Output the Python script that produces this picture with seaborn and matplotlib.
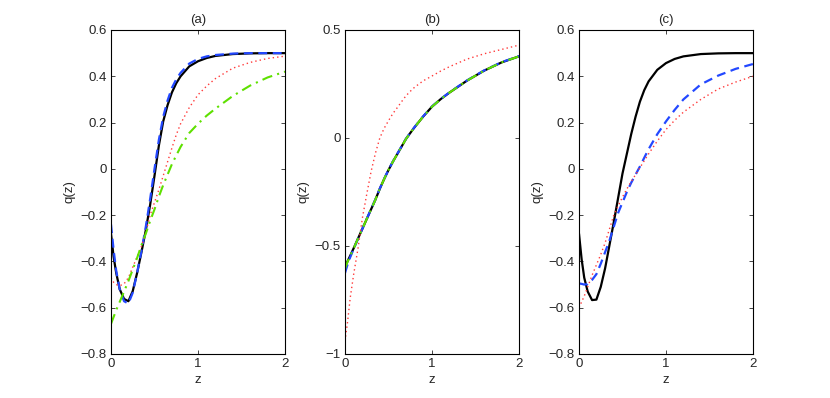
import numpy as np
import pandas as pd
import matplotlib
matplotlib.use("Agg")
import matplotlib.pyplot as plt
import seaborn as sns

# ---------------- data ----------------
z = [0, 0.03, 0.06, 0.1, 0.15, 0.2, 0.25, 0.3, 0.35, 0.4, 0.45, 0.5, 0.55,
     0.6, 0.65, 0.7, 0.75, 0.8, 0.9, 1.0, 1.1, 1.2, 1.4, 1.6, 1.8, 2.0]

# panel (a)
a_black = [-0.28, -0.38, -0.45, -0.52, -0.562, -0.572, -0.528, -0.45, -0.36, -0.265,
           -0.155, -0.03, 0.10, 0.205, 0.275, 0.33, 0.37, 0.40, 0.443, 0.465, 0.479,
           0.488, 0.496, 0.499, 0.5, 0.5]
a_blue = [-0.24, -0.35, -0.44, -0.52, -0.572, -0.582, -0.535, -0.45, -0.355, -0.25,
          -0.13, 0.0, 0.125, 0.225, 0.295, 0.35, 0.387, 0.415, 0.455, 0.475, 0.486,
          0.492, 0.498, 0.5, 0.5, 0.5]
a_red = [-0.47, -0.49, -0.50, -0.505, -0.497, -0.47, -0.425, -0.38, -0.335, -0.275,
         -0.2, -0.145, -0.09, -0.03, 0.03, 0.09, 0.147, 0.195, 0.265, 0.32, 0.358,
         0.39, 0.435, 0.46, 0.477, 0.487]
a_green = [-0.67, -0.64, -0.61, -0.575, -0.53, -0.485, -0.435, -0.385, -0.33, -0.28,
           -0.225, -0.175, -0.12, -0.07, -0.025, 0.02, 0.058, 0.095, 0.155, 0.195, 0.23,
           0.26, 0.315, 0.36, 0.395, 0.42]

# panel (b)
b_black = [-0.60, -0.57, -0.545, -0.51, -0.465, -0.42, -0.375, -0.33, -0.285, -0.235,
           -0.19, -0.148, -0.11, -0.075, -0.04, -0.005, 0.023, 0.05, 0.10, 0.145, 0.18,
           0.21, 0.265, 0.312, 0.35, 0.378]
b_blue = [-0.625, -0.585, -0.552, -0.513, -0.466, -0.42, -0.374, -0.329, -0.284, -0.234,
          -0.189, -0.147, -0.109, -0.074, -0.039, -0.004, 0.024, 0.051, 0.101, 0.146, 0.181,
          0.211, 0.266, 0.313, 0.351, 0.379]
b_red = [-0.94, -0.85, -0.74, -0.63, -0.51, -0.37, -0.26, -0.155, -0.07, 0.0,
         0.045, 0.08, 0.113, 0.14, 0.168, 0.195, 0.216, 0.235, 0.265, 0.287, 0.31,
         0.33, 0.365, 0.39, 0.41, 0.43]
b_green = [-0.605, -0.572, -0.546, -0.511, -0.465, -0.42, -0.375, -0.33, -0.285, -0.235,
           -0.19, -0.148, -0.11, -0.075, -0.04, -0.005, 0.023, 0.05, 0.10, 0.145, 0.18,
           0.21, 0.265, 0.312, 0.35, 0.378]

# panel (c)
c_black = [-0.28, -0.39, -0.47, -0.53, -0.567, -0.565, -0.51, -0.43, -0.33, -0.23,
           -0.125, -0.02, 0.065, 0.15, 0.225, 0.29, 0.34, 0.378, 0.428, 0.457, 0.475,
           0.486, 0.496, 0.499, 0.5, 0.5]
c_blue = [-0.495, -0.497, -0.50, -0.498, -0.48, -0.455, -0.41, -0.36, -0.31, -0.25,
          -0.19, -0.145, -0.10, -0.06, -0.025, 0.01, 0.048, 0.085, 0.15, 0.205, 0.255,
          0.30, 0.365, 0.403, 0.432, 0.453]
c_red = [-0.60, -0.575, -0.55, -0.51, -0.46, -0.415, -0.37, -0.32, -0.26, -0.2,
         -0.16, -0.122, -0.087, -0.055, -0.025, 0.005, 0.035, 0.065, 0.12, 0.17, 0.21,
         0.245, 0.30, 0.345, 0.375, 0.40]

titles = ["(a)", "(b)", "(c)"]
x_ticks = [0, 1, 2]
x_ticklabels = ["0", "1", "2"]
y_ticks_ac = [-0.8, -0.6, -0.4, -0.2, 0, 0.2, 0.4, 0.6]
y_ticklabels_ac = ["\u22120.8", "\u22120.6", "\u22120.4", "\u22120.2", "0", "0.2", "0.4", "0.6"]
y_ticks_b = [-1, -0.5, 0, 0.5]
y_ticklabels_b = ["\u22121", "\u22120.5", "0", "0.5"]

# ---------------- style ----------------
sns.set_style("ticks")
plt.rcParams["font.family"] = ["Liberation Sans", "DejaVu Sans"]
FS = 9.5
plt.rcParams["font.size"] = FS

C_BLACK = "#000000"
C_BLUE = "#2348ff"
C_RED = "#ff3a3a"
C_GREEN = "#5ee000"

STY = {
    "black": dict(color=C_BLACK, linestyle="-", linewidth=1.6),
    "blue": dict(color=C_BLUE, linestyle=(0, (4, 2.5)), linewidth=1.6),
    "red": dict(color=C_RED, linestyle=(0, (1, 2.2)), linewidth=1.0),
    "green": dict(color=C_GREEN, linestyle=(0, (5, 2.5, 1, 2.5)), linewidth=1.5),
}

fig = plt.figure(figsize=(8.30, 3.98), dpi=100)
W, H = 830.0, 398.0
lefts = [111, 345, 579]
axes = [fig.add_axes([l / W, 1 - 354 / H, 174 / W, 324 / H]) for l in lefts]

panels = [
    [("black", a_black), ("blue", a_blue), ("red", a_red), ("green", a_green)],
    [("black", b_black), ("blue", b_blue), ("red", b_red), ("green", b_green)],
    [("black", c_black), ("blue", c_blue), ("red", c_red)],
]

for i, (ax, series) in enumerate(zip(axes, panels)):
    for name, vals in series:
        df = pd.DataFrame({"z": z, "q": vals})
        sns.lineplot(data=df, x="z", y="q", ax=ax, **STY[name])
    ax.set_xlim(0, 2)
    ax.set_xticks(x_ticks)
    ax.set_xticklabels(x_ticklabels)
    if i == 1:
        ax.set_ylim(-1, 0.5)
        ax.set_yticks(y_ticks_b)
        ax.set_yticklabels(y_ticklabels_b)
    else:
        ax.set_ylim(-0.8, 0.6)
        ax.set_yticks(y_ticks_ac)
        ax.set_yticklabels(y_ticklabels_ac)
    ax.set_xlabel("z", fontsize=FS, labelpad=3)
    ax.set_ylabel("q(z)", fontsize=FS, labelpad=4)
    ax.set_title(titles[i], fontsize=FS, pad=5)
    ax.tick_params(direction="in", top=True, right=True, length=3, width=0.6,
                   labelsize=FS, pad=3)
    for sp in ax.spines.values():
        sp.set_visible(True)
        sp.set_linewidth(0.8)
        sp.set_color("black")

fig.savefig("out.png", dpi=100, facecolor="white")
